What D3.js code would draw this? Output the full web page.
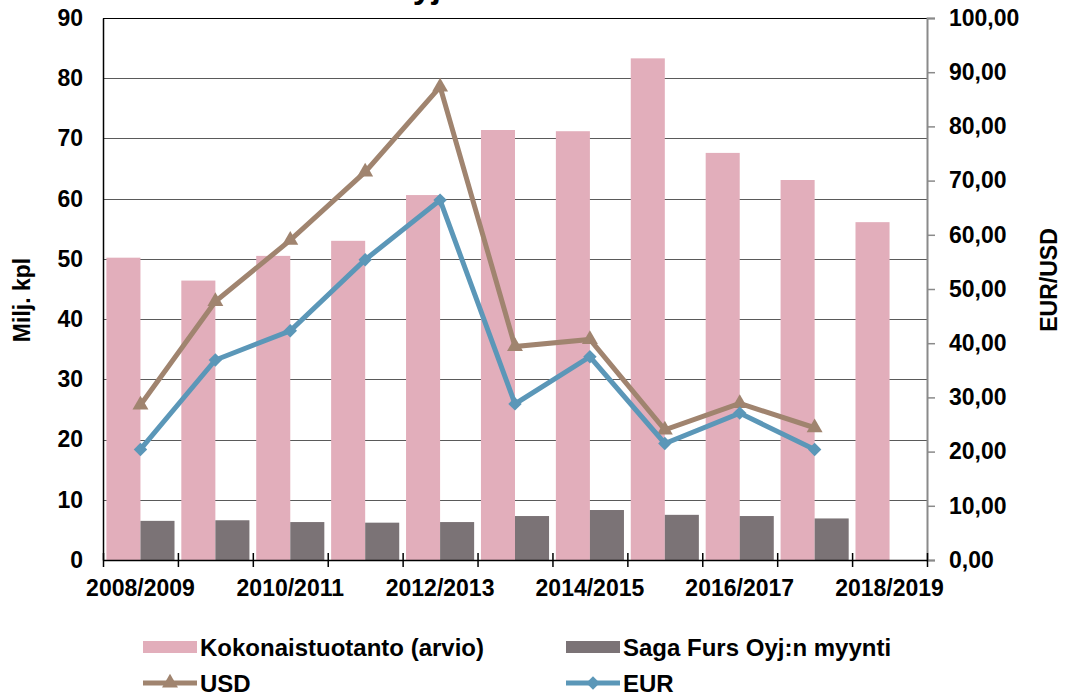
<!DOCTYPE html>
<html>
<head>
<meta charset="utf-8">
<script src="https://cdn.jsdelivr.net/npm/d3@7"></script>
<style>
  html, body { margin: 0; padding: 0; background: #fff; }
  svg { display: block; }
  text { font-family: "Liberation Sans", Arial, sans-serif; font-weight: bold; fill: #000; }
</style>
</head>
<body>
<svg id="chart" width="1069" height="696"></svg>
<script>
const categories = ["2008/2009","2009/2010","2010/2011","2011/2012","2012/2013","2013/2014","2014/2015","2015/2016","2016/2017","2017/2018","2018/2019"];
const tickLabels = ["2008/2009","2010/2011","2012/2013","2014/2015","2016/2017","2018/2019"];
const totalProduction = [50.2, 46.4, 50.5, 53.0, 60.6, 71.4, 71.2, 83.3, 67.6, 63.1, 56.1];
const sagaSales = [6.5, 6.6, 6.3, 6.2, 6.3, 7.3, 8.3, 7.5, 7.3, 6.9, null];
const usd = [28.6, 47.7, 59.0, 71.6, 87.3, 39.4, 40.7, 24.0, 28.9, 24.4, null];
const eur = [20.4, 36.9, 42.3, 55.4, 66.4, 28.8, 37.5, 21.5, 27.1, 20.4, null];
const leftTicks = [0,10,20,30,40,50,60,70,80,90];
const rightTicks = [0,10,20,30,40,50,60,70,80,90,100];
const seriesNames = ["Kokonaistuotanto (arvio)", "Saga Furs Oyj:n myynti", "USD", "EUR"];

const C = { pink: "#e2aebb", grey: "#7b7376", usd: "#a0846f", eur: "#5b97b8" };
const M = { left: 103, right: 927, top: 18, bottom: 560 };

const svg = d3.select("#chart");

const x = d3.scaleBand().domain(categories).range([M.left, M.right]).paddingInner(0).paddingOuter(0);
const xSub = d3.scaleBand().domain(["total","sales"]).range([0, x.bandwidth()]).paddingOuter(0.1).paddingInner(0);
const xIdx = d3.scaleLinear().domain([0, categories.length]).range([M.left, M.right]);
const yL = d3.scaleLinear().domain([0, 90]).range([M.bottom, M.top]);
const yR = d3.scaleLinear().domain([0, 100]).range([M.bottom, M.top]);
const fmtR = d3.formatLocale({decimal: ",", thousands: " ", grouping: [3], currency: ["", "€"]}).format(".2f");

// title (cut off at the top edge, as in the reference)
svg.append("text").attr("x", 441).attr("y", -2).attr("text-anchor", "end")
  .style("font-size", "34px").text("Oyj");

// gridlines
svg.append("g").selectAll("line").data(leftTicks.filter(d => d > 0)).join("line")
  .attr("x1", M.left).attr("x2", M.right)
  .attr("y1", d => Math.round(yL(d)) + 0.5).attr("y2", d => Math.round(yL(d)) + 0.5)
  .attr("stroke", d => d === 90 ? "#000" : "#5a5a5a").attr("stroke-width", 1.2);

// bars
const groups = svg.append("g").selectAll("g").data(categories).join("g")
  .attr("transform", d => `translate(${x(d)},0)`);
groups.append("rect")
  .attr("x", xSub("total")).attr("width", xSub.bandwidth())
  .attr("y", (d, i) => yL(totalProduction[i])).attr("height", (d, i) => yL(0) - yL(totalProduction[i]))
  .attr("fill", C.pink);
groups.filter((d, i) => sagaSales[i] != null).append("rect")
  .attr("x", xSub("sales")).attr("width", xSub.bandwidth())
  .attr("y", d => yL(sagaSales[categories.indexOf(d)]))
  .attr("height", d => yL(0) - yL(sagaSales[categories.indexOf(d)]))
  .attr("fill", C.grey);

// left axis
const gL = svg.append("g").attr("transform", `translate(${M.left},0)`)
  .call(d3.axisLeft(yL).tickValues(leftTicks).tickSize(0).tickPadding(20));
gL.select(".domain").attr("stroke", "#000").attr("stroke-width", 1.5);
gL.selectAll("text").style("font-size", "23px");

// right axis
const gR = svg.append("g").attr("transform", `translate(${M.right},0)`)
  .call(d3.axisRight(yR).tickValues(rightTicks).tickFormat(fmtR).tickSize(8).tickSizeOuter(8).tickPadding(14));
gR.select(".domain").attr("stroke", "#8a8a8a").attr("stroke-width", 2);
gR.selectAll(".tick line").attr("stroke", "#8a8a8a").attr("stroke-width", 1.5);
gR.selectAll("text").style("font-size", "23px");

// bottom axis: boundary ticks
const gB = svg.append("g").attr("transform", `translate(0,${M.bottom})`)
  .call(d3.axisBottom(xIdx).tickValues(d3.range(0, categories.length + 1)).tickFormat("").tickSize(7).tickSizeOuter(0));
gB.select(".domain").attr("stroke", "#000").attr("stroke-width", 1.5);
gB.selectAll(".tick line").attr("y1", -7).attr("stroke", "#000").attr("stroke-width", 1.5);

// bottom labels
const gBL = svg.append("g").attr("transform", `translate(0,${M.bottom})`)
  .call(d3.axisBottom(x).tickValues(tickLabels).tickSize(0).tickPadding(20));
gBL.select(".domain").remove();
gBL.selectAll("text").style("font-size", "23px");

// lines
const lineGen = d3.line().defined(d => d != null)
  .x((d, i) => x(categories[i]) + x.bandwidth() / 2).y(d => yR(d));
const triangle = d3.symbol().type(d3.symbolTriangle).size(110);
const diamond = d3.symbol().type(d3.symbolSquare).size(90);

function drawSeries(vals, color, sym, rot) {
  svg.append("path").datum(vals).attr("d", lineGen)
    .attr("fill", "none").attr("stroke", color).attr("stroke-width", 5).attr("stroke-linejoin", "miter");
  svg.append("g").selectAll("path").data(vals.map((v, i) => ({v, i})).filter(d => d.v != null)).join("path")
    .attr("d", sym)
    .attr("transform", d => `translate(${x(categories[d.i]) + x.bandwidth() / 2},${yR(d.v)}) rotate(${rot})`)
    .attr("fill", color);
}
drawSeries(usd, C.usd, triangle, 0);
drawSeries(eur, C.eur, diamond, 45);

// axis titles
svg.append("text").attr("transform", "translate(30,300) rotate(-90)").attr("text-anchor", "middle")
  .style("font-size", "23px").text("Milj. kpl");
svg.append("text").attr("transform", "translate(1057,280) rotate(-90)").attr("text-anchor", "middle")
  .style("font-size", "23px").text("EUR/USD");

// legend
const legend = [
  {name: seriesNames[0], type: "rect", color: C.pink, x: 143, y: 647},
  {name: seriesNames[1], type: "rect", color: C.grey, x: 566, y: 647},
  {name: seriesNames[2], type: "line", color: C.usd, sym: triangle, rot: 0, x: 143, y: 683},
  {name: seriesNames[3], type: "line", color: C.eur, sym: diamond, rot: 45, x: 566, y: 683}
];
const lg = svg.append("g").selectAll("g").data(legend).join("g")
  .attr("transform", d => `translate(${d.x},${d.y})`);
lg.filter(d => d.type === "rect").append("rect")
  .attr("x", 0).attr("y", -6).attr("width", 54).attr("height", 12).attr("fill", d => d.color);
lg.filter(d => d.type === "line").append("line")
  .attr("x1", 0).attr("x2", 54).attr("y1", 0).attr("y2", 0)
  .attr("stroke", d => d.color).attr("stroke-width", 5);
lg.filter(d => d.type === "line").append("path")
  .attr("d", d => d.sym()).attr("transform", d => `translate(27,0) rotate(${d.rot})`)
  .attr("fill", d => d.color);
lg.append("text").attr("x", 57).attr("dy", "0.36em").style("font-size", "24px").text(d => d.name);
</script>
</body>
</html>
